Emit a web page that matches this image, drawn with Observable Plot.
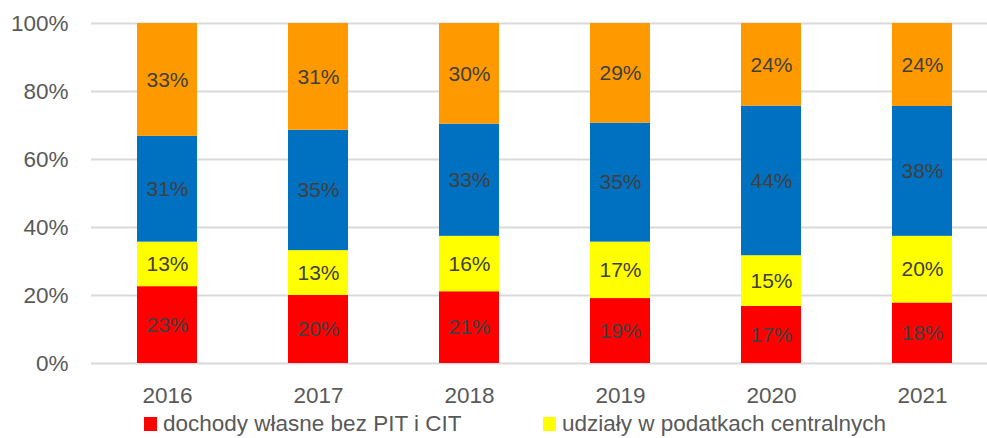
<!DOCTYPE html>
<html><head><meta charset="utf-8">
<script src="https://cdn.jsdelivr.net/npm/d3@7"></script>
<script src="https://cdn.jsdelivr.net/npm/@observablehq/plot@0.6"></script>
<style>
html,body{margin:0;padding:0;background:#fff;}
body{font-family:"Liberation Sans",Arial,sans-serif;width:987px;height:438px;overflow:hidden;}
#chart svg{display:block;}
#legend{position:relative;height:28px;font-size:22.5px;color:#595959;}
.item{position:absolute;top:0;display:flex;align-items:center;height:28px;white-space:nowrap;}
.sw{width:13px;height:14px;margin-right:6px;}
</style></head><body>
<div id="chart"></div>
<div id="legend"></div>
<script>
const years = ["2016", "2017", "2018", "2019", "2020", "2021"];
const seriesNames = ["dochody własne bez PIT i CIT", "udziały w podatkach centralnych", "dotacje celowe", "subwencja ogólna"];
const seriesColors = ["#ff0000", "#ffff00", "#0070c0", "#ff9900"];
const legendShown = ["dochody własne bez PIT i CIT", "udziały w podatkach centralnych"];
// shares, %
const dochodyWlasne = [22.6, 20.0, 21.1, 19.1, 16.8, 17.8];
const udzialy = [13.1, 13.2, 16.3, 16.6, 14.9, 19.6];
const dotacje = [31.1, 35.4, 33.0, 35.0, 44.0, 38.2];
const subwencja = [33.2, 31.4, 29.6, 29.3, 24.3, 24.4];
const yTicks = [0, 20, 40, 60, 80, 100];

const seriesValues = [dochodyWlasne, udzialy, dotacje, subwencja];
const data = [];
seriesNames.forEach((s, i) => years.forEach((y, j) => data.push({year: y, series: s, value: seriesValues[i][j]})));

const W = 987, H = 410;
const chart = Plot.plot({
  width: W, height: H,
  marginLeft: 91, marginRight: 0, marginTop: 23, marginBottom: 47,
  style: {fontFamily: '"Liberation Sans", Arial, sans-serif', background: "#fff"},
  x: {domain: years, range: [91, 997], paddingInner: 0.603, paddingOuter: 0.3015, label: null},
  y: {domain: [0, 100], label: null},
  color: {domain: seriesNames, range: seriesColors},
  marks: [
    Plot.ruleY(yTicks, {stroke: "#d9d9d9", strokeWidth: 2}),
    Plot.barY(data, {x: "year", y: "value", z: "series", fill: "series"}),
    Plot.text(data, Plot.stackY({x: "year", y: "value", z: "series",
      text: d => Math.round(d.value) + "%", fill: "#404040", fontSize: 21})),
    Plot.axisY(yTicks, {tickSize: 0, tickPadding: 23, tickFormat: d => d + "%", fontSize: 22.5, fill: "#595959", label: null}),
    Plot.axisX({tickSize: 0, tickPadding: 24, fontSize: 22.5, fill: "#595959", label: null})
  ]
});
document.getElementById("chart").appendChild(chart);

const legend = document.getElementById("legend");
const lefts = [144, 543];
legendShown.forEach((name, k) => {
  const i = seriesNames.indexOf(name);
  const it = document.createElement("div");
  it.className = "item";
  it.style.left = lefts[k] + "px";
  const sw = document.createElement("span");
  sw.className = "sw";
  sw.style.background = seriesColors[i];
  const t = document.createElement("span");
  t.textContent = name;
  it.appendChild(sw); it.appendChild(t);
  legend.appendChild(it);
});
</script>
</body></html>
